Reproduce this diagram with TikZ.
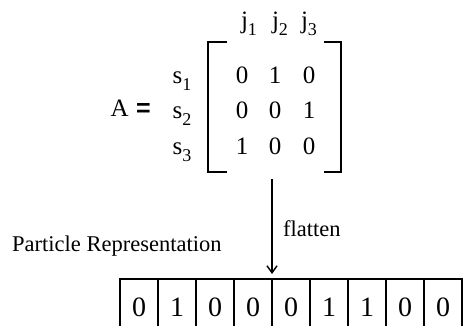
\documentclass[tikz,border=0pt]{standalone}
\usepackage{fontspec}
\setmainfont{Liberation Serif}
\newfontfamily\eqfont{Liberation Sans}
\usetikzlibrary{arrows.meta}
\newcommand{\mysub}[1]{\raisebox{-0.25em}{\fontsize{18}{18}\selectfont #1}}
\tikzset{
  lbl/.style={inner sep=0pt, font=\fontsize{25}{28}\selectfont},
  txt/.style={inner sep=0pt, font=\fontsize{22.5}{26}\selectfont},
  cell/.style={draw, line width=1.8pt, minimum width=38pt, minimum height=56pt, inner sep=0pt, font=\fontsize{28}{30}\selectfont},
  brk/.style={line width=1.8pt},
  flow/.style={line width=1.4pt, -{Straight Barb[length=7pt,width=10pt,line width=1.4pt]}}
}
\begin{document}
\begin{tikzpicture}[x=1pt,y=-1pt]
\useasboundingbox (0,0) rectangle (464,326);
% column labels
\node[lbl, anchor=base] (j1) at (249,29) {j\mysub{1}};
\node[lbl, anchor=base] (j2) at (280,29) {j\mysub{2}};
\node[lbl, anchor=base] (j3) at (309,29) {j\mysub{3}};
% row labels
\node[lbl, anchor=base] (s1) at (182,84) {s\mysub{1}};
\node[lbl, anchor=base] (s2) at (182,119) {s\mysub{2}};
\node[lbl, anchor=base] (s3) at (182,155) {s\mysub{3}};
% A =
\node[lbl, anchor=base east] (A) at (129,117) {A};
\node[inner sep=0pt, anchor=base west, font=\eqfont\bfseries\fontsize{25}{28}\selectfont] (eq) at (136,117) {=};
% matrix entries
\node[lbl, anchor=base] (m11) at (242,84) {0};
\node[lbl, anchor=base] (m12) at (275,84) {1};
\node[lbl, anchor=base] (m13) at (309,84) {0};
\node[lbl, anchor=base] (m21) at (242,119) {0};
\node[lbl, anchor=base] (m22) at (275,119) {0};
\node[lbl, anchor=base] (m23) at (309,119) {1};
\node[lbl, anchor=base] (m31) at (242,155) {1};
\node[lbl, anchor=base] (m32) at (275,155) {0};
\node[lbl, anchor=base] (m33) at (309,155) {0};
% brackets
\draw[brk] (227,42) -- (208,42) -- (208,172) -- (227,172);
\draw[brk] (324,42) -- (341,42) -- (341,172) -- (324,172);
% arrow
\coordinate (atop) at (272,179);
\coordinate (abot) at (272,274);
\draw[flow] (atop) -- (abot);
\node[txt, anchor=base west] (fl) at (283,237) {flatten};
\node[txt, anchor=base west] (pr) at (12,252) {Particle Representation};
% array
\foreach \v [count=\i from 0] in {0,1,0,0,0,1,1,0,0} {
  \node[cell] (c\i) at ({139+38*\i},307) {\v};
}
\end{tikzpicture}
\end{document}
